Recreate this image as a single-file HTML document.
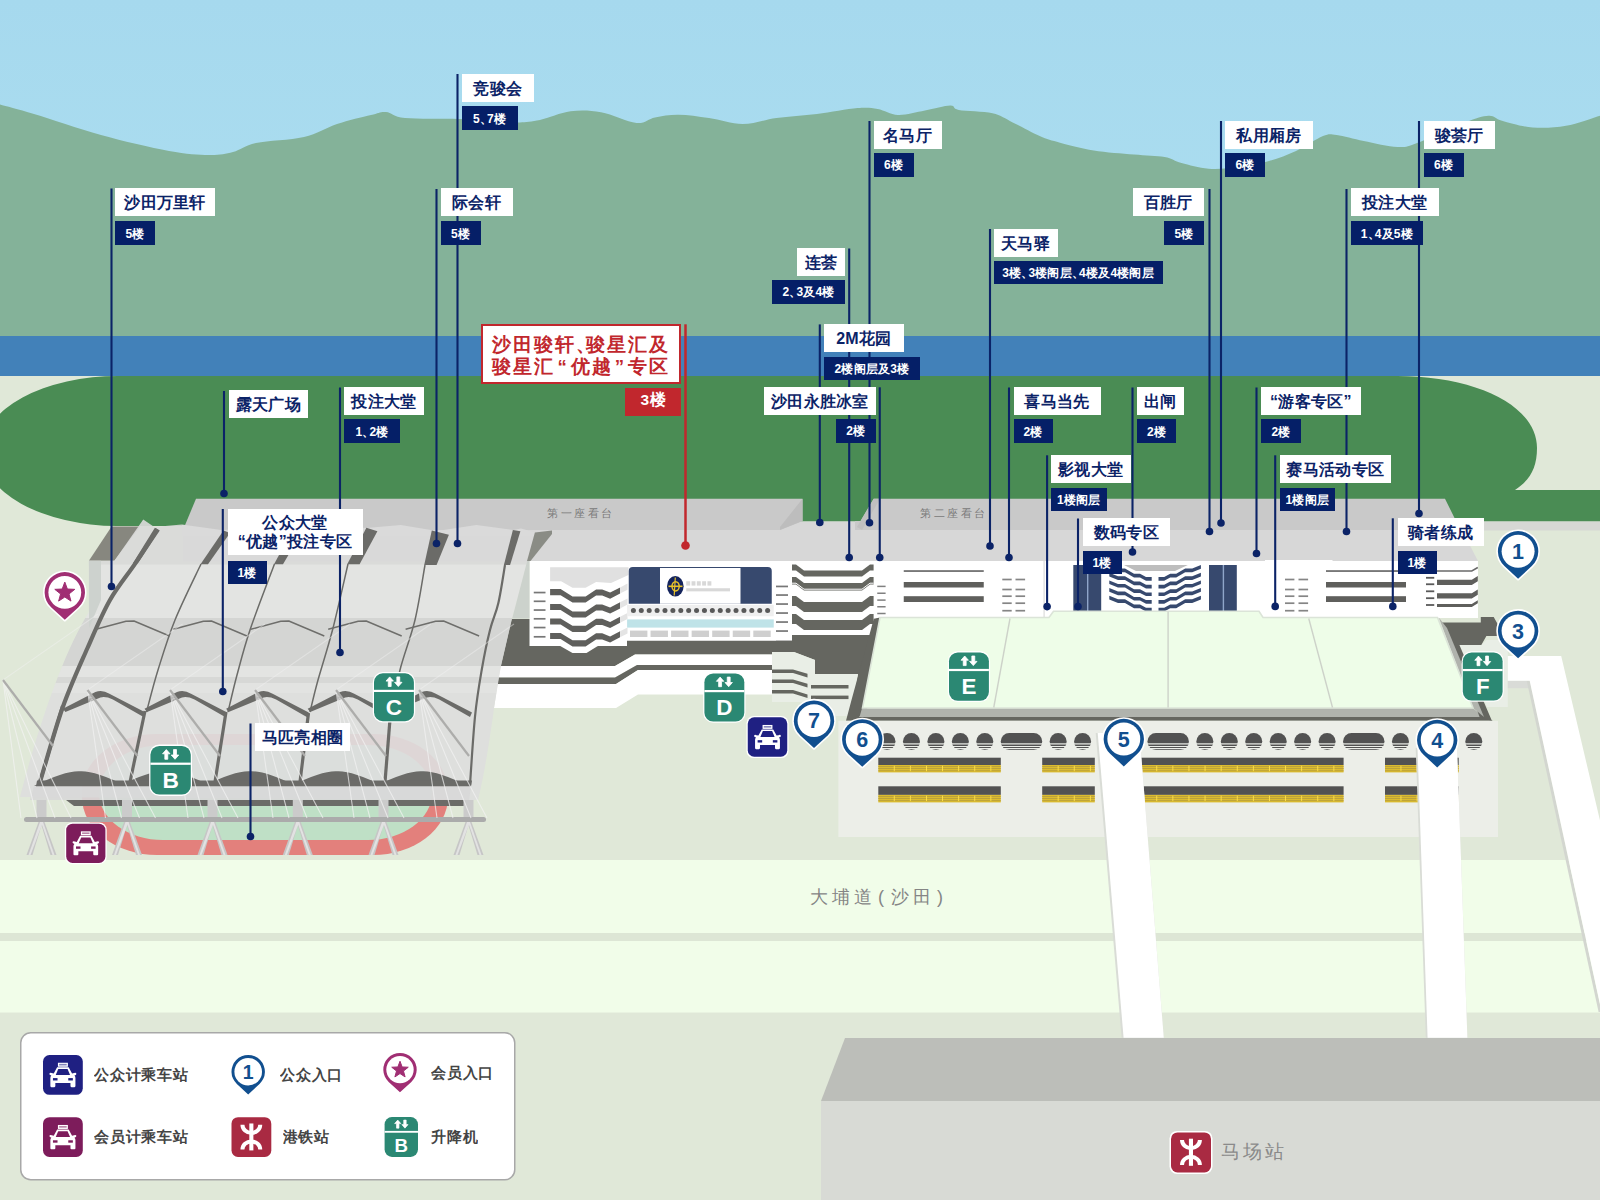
<!DOCTYPE html>
<html lang="zh-Hans"><head><meta charset="utf-8"><title>沙田马场地图</title>
<style>
html,body{margin:0;padding:0;background:#e0e8d8;}
body{width:1600px;height:1200px;position:relative;overflow:hidden;font-family:"Liberation Sans",sans-serif;}
#art{position:absolute;left:0;top:0;width:1600px;height:1200px;display:block;}
.nm,.fl,.rd,.gt,.lg{position:absolute;white-space:nowrap;overflow:hidden;text-align:center;font-family:"Liberation Sans",sans-serif;}
.nm{background:#fff;color:#0b2367;font-weight:bold;font-size:16px;letter-spacing:0.3px;}
.fl{background:#051f67;color:#fff;font-weight:bold;font-size:12px;letter-spacing:0.2px;}
.rd{background:#fff;color:#c1272d;font-weight:bold;font-size:18.6px;line-height:21.6px;letter-spacing:2px;border:2px solid #c1272d;box-sizing:border-box;padding-top:8px;}
.cm{margin-right:-5px;}
.cm2{margin-right:-11px;}
.q{margin:0 2px;}
.gt{font-weight:normal;}
.lg{color:#444;font-size:15px;font-weight:bold;letter-spacing:0.8px;line-height:22px;text-align:left;}
</style></head>
<body>
<svg id="art" width="1600" height="1200" viewBox="0 0 1600 1200">
<defs><linearGradient id="sky" x1="0" y1="0" x2="0" y2="1"><stop offset="0" stop-color="#a6d9ee"/><stop offset="1" stop-color="#addff0"/></linearGradient></defs>
<rect x="0" y="0" width="1600" height="340" fill="url(#sky)"/>
<path d="M0.0,104.5 C5.7,106.1 17.2,108.9 34.0,114.0 C50.8,119.1 78.5,128.8 101.0,135.0 C123.5,141.2 151.0,147.7 169.0,151.0 C187.0,154.3 198.3,154.8 209.0,155.0 C219.7,155.2 225.2,154.0 233.0,152.0 C240.8,150.0 244.2,145.5 256.0,143.0 C267.8,140.5 290.5,140.2 304.0,137.0 C317.5,133.8 325.8,127.7 337.0,124.0 C348.2,120.3 362.8,117.0 371.0,115.0 C379.2,113.0 380.3,111.5 386.0,112.0 C391.7,112.5 392.8,116.8 405.0,118.0 C417.2,119.2 442.2,118.3 459.0,119.0 C475.8,119.7 495.8,121.4 506.0,122.0 C516.2,122.6 514.3,122.7 520.0,122.4 C525.7,122.1 531.6,121.8 540.0,120.0 C548.4,118.2 560.4,112.6 570.6,111.3 C580.8,110.0 590.0,110.3 601.0,112.3 C612.0,114.2 627.4,122.2 636.4,123.0 C645.4,123.8 648.0,118.8 655.0,117.4 C662.0,116.0 669.6,114.6 678.6,114.7 C687.6,114.8 698.3,116.5 709.0,118.0 C719.7,119.5 731.5,124.0 742.7,124.0 C754.0,124.0 764.1,119.7 776.5,118.0 C788.9,116.3 803.5,115.7 817.0,114.0 C830.5,112.3 847.4,108.8 857.5,108.0 C867.6,107.2 871.0,107.8 877.7,109.0 C884.5,110.2 890.1,114.7 898.0,115.0 C905.9,115.3 916.3,112.2 925.0,110.6 C933.7,109.0 944.7,105.7 950.3,105.6 C955.9,105.5 951.7,108.7 958.7,110.0 C965.7,111.3 983.5,111.2 992.5,113.3 C1001.5,115.4 1004.8,118.6 1012.7,122.4 C1020.6,126.2 1031.8,132.6 1039.7,136.0 C1047.6,139.4 1051.0,140.3 1060.0,142.7 C1069.0,145.1 1081.4,148.4 1093.7,150.4 C1106.0,152.4 1122.2,153.4 1134.0,154.5 C1145.8,155.6 1156.7,155.6 1164.6,157.0 C1172.5,158.4 1174.2,161.1 1181.5,163.0 C1188.8,164.9 1198.8,168.0 1208.5,168.7 C1218.2,169.4 1229.9,168.3 1240.0,167.0 C1250.1,165.7 1259.7,163.7 1269.0,161.0 C1278.3,158.3 1287.0,155.2 1296.0,151.0 C1305.0,146.8 1316.2,138.7 1323.0,136.0 C1329.8,133.3 1329.9,134.2 1336.7,135.0 C1343.5,135.8 1353.6,139.0 1363.7,141.0 C1373.8,143.0 1388.5,146.7 1397.5,147.0 C1406.5,147.3 1406.5,146.8 1417.7,142.7 C1429.0,138.6 1453.2,126.9 1465.0,122.4 C1476.8,117.9 1482.4,116.0 1488.6,115.7 C1494.8,115.4 1494.7,118.7 1502.0,120.7 C1509.3,122.7 1521.8,126.7 1532.5,127.5 C1543.2,128.3 1554.8,127.8 1566.0,125.8 C1577.2,123.8 1594.3,117.4 1600.0,115.7 L1600,340 L0,340 Z" fill="#84b299"/>
<rect x="0" y="336" width="1600" height="40" fill="#4281b9"/>
<rect x="0" y="376" width="1600" height="824" fill="#e0e8d8"/>
<path d="M119,376 A136,75 0 0 0 117,526 L190,526 L190,521.5 L1600,521.5 L1600,490 L1515,490 C1530,480 1537,468 1537,448 C1537,405 1475,376 1397,376 Z" fill="#4a8c54"/>
<rect x="1440" y="521.5" width="160" height="9" fill="#d6d8d4"/>
<rect x="0" y="860" width="1600" height="73" fill="#f1fde9"/>
<rect x="0" y="933" width="1600" height="8" fill="#dde6d5"/>
<rect x="0" y="941" width="1600" height="71.5" fill="#f1fde9"/>
<rect x="778.00" y="521.50" width="80.00" height="40.00" fill="#d7d7d7" />
<polygon points="196.0,498.7 802.5,498.7 802.5,521.0 780.0,530.0 183.0,530.0" fill="#c9c9c9" />
<polygon points="802.5,498.7 802.5,521.0 780.0,530.0 780.0,527.0" fill="#bdbdbd" />
<rect x="183.00" y="530.00" width="620.00" height="31.50" fill="#d7d7d7" />
<polygon points="873.7,498.7 1445.0,498.7 1456.0,521.0 862.0,521.0 857.0,527.0" fill="#c9c9c9" />
<rect x="855.00" y="521.00" width="601.00" height="9.00" fill="#c9c9c9" />
<polygon points="857.0,527.0 873.7,498.7 880.0,498.7 862.0,530.0" fill="#c0c0c0" />
<polygon points="840.0,530.0 1462.0,530.0 1478.0,561.0 840.0,561.0" fill="#d7d7d7" />
<polygon points="511.7,619.0 792.0,619.0 792.0,654.5 635.0,654.5 615.0,666.0 500.8,666.0" fill="#656660" />
<polygon points="500.8,666.0 615.0,666.0 635.0,654.5 776.0,654.5 776.0,665.0 637.0,665.0 615.0,677.5 498.6,677.5" fill="#ffffff" />
<polygon points="498.6,677.5 615.0,677.5 637.0,665.0 776.0,665.0 776.0,670.0 638.0,670.0 616.0,684.0 497.6,684.0" fill="#656660" />
<polygon points="497.6,684.0 616.0,684.0 638.0,670.0 772.0,670.0 772.0,694.5 638.0,694.5 616.0,708.0 494.0,708.0" fill="#ffffff" />
<polygon points="529.5,646.0 627.0,646.0 627.0,640.8 792.1,640.8 792.1,561.0 529.5,561.0" fill="#ffffff" />
<polygon points="558.0,645.5 560.2,646.0 572.5,653.0 586.5,653.0 597.0,646.5 599.0,645.5" fill="#ffffff" />
<polygon points="550.1,567.2 628.5,567.2 628.5,575.1 611.0,583.0 596.1,582.1 585.6,587.7 572.5,587.7 561.1,581.2 550.1,581.2" fill="#e0e0e0" />
<polygon points="550.1,589.1 560.6,589.1 572.5,596.5 585.6,596.5 596.1,589.5 602.2,589.5 610.1,592.6 620.1,587.4 620.1,593.5 610.1,598.7 602.2,595.6 596.1,595.6 585.6,602.6 572.5,602.6 560.6,595.2 550.1,595.2" fill="#5f5f5c" />
<polygon points="620.1,587.4 627.5,583.6 627.5,589.7 620.1,593.5" fill="#e4e4e4" />
<polygon points="550.1,604.0 560.6,604.0 572.5,611.4 585.6,611.4 596.1,604.4 602.2,604.4 610.1,607.5 620.1,602.3 620.1,608.4 610.1,613.6 602.2,610.5 596.1,610.5 585.6,617.5 572.5,617.5 560.6,610.1 550.1,610.1" fill="#5f5f5c" />
<polygon points="620.1,602.3 627.5,598.5 627.5,604.6 620.1,608.4" fill="#e4e4e4" />
<polygon points="550.1,618.4 560.6,618.4 572.5,625.8 585.6,625.8 596.1,618.8 602.2,618.8 610.1,621.9 620.1,616.7 620.1,622.8 610.1,628.0 602.2,624.9 596.1,624.9 585.6,631.9 572.5,631.9 560.6,624.5 550.1,624.5" fill="#5f5f5c" />
<polygon points="620.1,616.7 627.5,612.9 627.5,619.0 620.1,622.8" fill="#e4e4e4" />
<polygon points="550.1,632.9 560.6,632.9 572.5,640.3 585.6,640.3 596.1,633.3 602.2,633.3 610.1,636.4 620.1,631.2 620.1,637.3 610.1,642.5 602.2,639.4 596.1,639.4 585.6,646.4 572.5,646.4 560.6,639.0 550.1,639.0" fill="#5f5f5c" />
<polygon points="620.1,631.2 627.5,627.4 627.5,633.5 620.1,637.3" fill="#e4e4e4" />
<rect x="533.75" y="591.70" width="11.75" height="1.70" fill="#777" />
<rect x="533.75" y="600.45" width="11.75" height="1.70" fill="#777" />
<rect x="533.75" y="609.20" width="11.75" height="1.70" fill="#777" />
<rect x="533.75" y="617.95" width="11.75" height="1.70" fill="#777" />
<rect x="533.75" y="626.70" width="11.75" height="1.70" fill="#777" />
<rect x="533.75" y="635.95" width="11.75" height="1.70" fill="#777" />
<rect x="776.00" y="585.60" width="12.00" height="1.70" fill="#777" />
<rect x="776.00" y="594.20" width="12.00" height="1.70" fill="#777" />
<rect x="776.00" y="603.20" width="12.00" height="1.70" fill="#777" />
<rect x="776.00" y="612.20" width="12.00" height="1.70" fill="#777" />
<rect x="776.00" y="621.20" width="12.00" height="1.70" fill="#777" />
<rect x="776.00" y="630.20" width="12.00" height="1.70" fill="#777" />
<path d="M628.75,603.75 V571 a4,4 0 0 1 4,-4 H767.75 a4,4 0 0 1 4,4 V603.75 Z" fill="#37496e"/>
<rect x="660.00" y="568.00" width="80.50" height="35.75" fill="#ffffff" />
<ellipse cx="675.3" cy="586.3" rx="8.3" ry="10.3" fill="#14245c"/><ellipse cx="675.6" cy="586.3" rx="3.6" ry="4.6" fill="none" stroke="#e8c22a" stroke-width="1.5"/><line x1="675.3" y1="577.5" x2="674.2" y2="595.5" stroke="#e8c22a" stroke-width="1.2"/><line x1="668.5" y1="586.3" x2="682.5" y2="586.3" stroke="#e8c22a" stroke-width="1.6"/>
<rect x="686.25" y="581.25" width="3.90" height="4.35" fill="#d8d8d8" />
<rect x="691.55" y="581.25" width="3.90" height="4.35" fill="#d8d8d8" />
<rect x="696.85" y="581.25" width="3.90" height="4.35" fill="#d8d8d8" />
<rect x="702.15" y="581.25" width="3.90" height="4.35" fill="#d8d8d8" />
<rect x="707.45" y="581.25" width="3.90" height="4.35" fill="#d8d8d8" />
<rect x="686.25" y="588.25" width="43.75" height="3.10" fill="#d8d8d8" />
<rect x="627.10" y="604.90" width="146.65" height="11.35" fill="#efefef" />
<circle cx="633.40" cy="610.5" r="2.5" fill="#595959"/>
<circle cx="641.29" cy="610.5" r="2.5" fill="#595959"/>
<circle cx="649.19" cy="610.5" r="2.5" fill="#595959"/>
<circle cx="657.08" cy="610.5" r="2.5" fill="#595959"/>
<circle cx="664.98" cy="610.5" r="2.5" fill="#595959"/>
<circle cx="672.88" cy="610.5" r="2.5" fill="#595959"/>
<circle cx="680.77" cy="610.5" r="2.5" fill="#595959"/>
<circle cx="688.66" cy="610.5" r="2.5" fill="#595959"/>
<circle cx="696.56" cy="610.5" r="2.5" fill="#595959"/>
<circle cx="704.45" cy="610.5" r="2.5" fill="#595959"/>
<circle cx="712.35" cy="610.5" r="2.5" fill="#595959"/>
<circle cx="720.25" cy="610.5" r="2.5" fill="#595959"/>
<circle cx="728.14" cy="610.5" r="2.5" fill="#595959"/>
<circle cx="736.03" cy="610.5" r="2.5" fill="#595959"/>
<circle cx="743.93" cy="610.5" r="2.5" fill="#595959"/>
<circle cx="751.82" cy="610.5" r="2.5" fill="#595959"/>
<circle cx="759.72" cy="610.5" r="2.5" fill="#595959"/>
<circle cx="767.62" cy="610.5" r="2.5" fill="#595959"/>
<rect x="627.10" y="619.40" width="146.65" height="8.20" fill="#bfe3e8" />
<rect x="630.00" y="630.60" width="17.40" height="6.40" fill="#cfcfcf" />
<rect x="650.55" y="630.60" width="17.40" height="6.40" fill="#cfcfcf" />
<rect x="671.10" y="630.60" width="17.40" height="6.40" fill="#cfcfcf" />
<rect x="691.65" y="630.60" width="17.40" height="6.40" fill="#cfcfcf" />
<rect x="712.20" y="630.60" width="17.40" height="6.40" fill="#cfcfcf" />
<rect x="732.75" y="630.60" width="17.40" height="6.40" fill="#cfcfcf" />
<rect x="753.30" y="630.60" width="17.40" height="6.40" fill="#cfcfcf" />
<rect x="790.00" y="561.00" width="86.00" height="74.50" fill="#ffffff" />
<polygon points="792.0,564.4 796.0,564.4 804.0,570.4 862.0,570.4 870.0,564.4 873.6,564.4 873.6,570.6 870.0,570.6 862.0,576.6 804.0,576.6 796.0,570.6 792.0,570.6" fill="#656660" />
<polygon points="792.0,577.0 796.0,577.0 804.0,583.0 862.0,583.0 870.0,577.0 873.6,577.0 873.6,584.6 870.0,584.6 862.0,590.6 804.0,590.6 796.0,584.6 792.0,584.6" fill="#656660" />
<polyline points="792.0,583.2 796.0,583.2 804.0,589.2 862.0,589.2 870.0,583.2 873.6,583.2" fill="none" stroke="#ffffff" stroke-width="1.00" />
<polygon points="792.0,596.0 796.0,596.0 804.0,602.0 862.0,602.0 870.0,596.0 873.6,596.0 873.6,606.0 870.0,606.0 862.0,612.0 804.0,612.0 796.0,606.0 792.0,606.0" fill="#656660" />
<polygon points="792.0,614.0 796.0,614.0 804.0,620.0 862.0,620.0 870.0,614.0 873.6,614.0 873.6,624.0 870.0,624.0 862.0,630.0 804.0,630.0 796.0,624.0 792.0,624.0" fill="#656660" />
<polygon points="776.0,640.8 792.0,640.8 792.0,635.0 874.0,635.0 880.0,628.0 866.0,716.0 852.0,716.0 858.0,674.0 815.0,674.0 815.0,660.0 794.0,652.0 776.0,652.0" fill="#656660" />
<polygon points="772.0,652.0 794.0,652.0 815.0,660.0 815.0,702.0 772.0,702.0" fill="#e9eee6" />
<polygon points="772.0,669.4 793.0,669.4 807.5,673.8 807.5,677.4 793.0,673.0 772.0,673.0" fill="#656660" />
<polygon points="772.0,679.4 793.0,679.4 807.5,683.8 807.5,687.4 793.0,683.0 772.0,683.0" fill="#656660" />
<polygon points="772.0,690.0 793.0,690.0 807.5,694.4 807.5,698.0 793.0,693.6 772.0,693.6" fill="#656660" />
<polygon points="815.0,674.0 858.0,674.0 850.0,716.0 815.0,716.0" fill="#e9eee6" />
<rect x="811.00" y="685.00" width="37.50" height="3.50" fill="#656660" />
<rect x="811.00" y="695.60" width="37.50" height="3.50" fill="#656660" />
<rect x="875.00" y="561.00" width="603.00" height="57.00" fill="#ffffff" />
<rect x="903.75" y="570.20" width="80.00" height="1.70" fill="#6a6a6a" />
<rect x="903.75" y="582.00" width="80.00" height="5.50" fill="#5f5f5c" />
<rect x="903.75" y="596.20" width="80.00" height="5.80" fill="#5f5f5c" />
<rect x="877.25" y="585.65" width="8.35" height="1.50" fill="#808080" />
<rect x="877.25" y="592.50" width="8.35" height="1.50" fill="#808080" />
<rect x="877.25" y="599.35" width="8.35" height="1.50" fill="#808080" />
<rect x="877.25" y="606.00" width="8.35" height="1.50" fill="#808080" />
<rect x="877.25" y="612.75" width="8.35" height="1.50" fill="#808080" />
<rect x="1002.30" y="578.65" width="9.40" height="1.70" fill="#858585" />
<rect x="1015.50" y="578.65" width="9.60" height="1.70" fill="#858585" />
<rect x="1002.30" y="588.65" width="9.40" height="1.70" fill="#858585" />
<rect x="1015.50" y="588.65" width="9.60" height="1.70" fill="#858585" />
<rect x="1002.30" y="595.35" width="9.40" height="1.70" fill="#858585" />
<rect x="1015.50" y="595.35" width="9.60" height="1.70" fill="#858585" />
<rect x="1002.30" y="602.35" width="9.40" height="1.70" fill="#858585" />
<rect x="1015.50" y="602.35" width="9.60" height="1.70" fill="#858585" />
<rect x="1002.30" y="609.85" width="9.40" height="1.70" fill="#858585" />
<rect x="1015.50" y="609.85" width="9.60" height="1.70" fill="#858585" />
<rect x="1043.50" y="561.00" width="1.20" height="57.00" fill="#dcdcdc" />
<rect x="1265.00" y="560.00" width="1.20" height="58.00" fill="#dcdcdc" />
<rect x="1265.00" y="560.00" width="67.50" height="57.50" fill="#ffffff" />
<rect x="1073.30" y="565.00" width="27.90" height="46.20" fill="#37496e" />
<rect x="1087.00" y="565.00" width="1.40" height="46.20" fill="#8fa5c9" />
<rect x="1209.00" y="565.00" width="27.80" height="46.20" fill="#37496e" />
<rect x="1222.70" y="565.00" width="1.40" height="46.20" fill="#8fa5c9" />
<polygon points="1124.0,565.0 1187.8,565.0 1175.0,571.0 1136.0,571.0" fill="#bdbdbd" />
<polygon points="1109.3,565.0 1118.0,568.5 1125.0,568.5 1134.0,573.8 1140.0,573.8 1146.0,577.0 1151.7,577.0 1151.7,580.7 1146.0,580.7 1140.0,577.5 1134.0,577.5 1125.0,572.2 1118.0,572.2 1109.3,568.7" fill="#37496e" />
<polygon points="1200.9,565.0 1192.2,568.5 1185.2,568.5 1176.2,573.8 1170.2,573.8 1164.2,577.0 1158.5,577.0 1158.5,580.7 1164.2,580.7 1170.2,577.5 1176.2,577.5 1185.2,572.2 1192.2,572.2 1200.9,568.7" fill="#37496e" />
<polygon points="1109.3,572.7 1118.0,576.2 1125.0,576.2 1134.0,581.5 1140.0,581.5 1146.0,584.7 1151.7,584.7 1151.7,588.4 1146.0,588.4 1140.0,585.2 1134.0,585.2 1125.0,579.9 1118.0,579.9 1109.3,576.4" fill="#37496e" />
<polygon points="1200.9,572.7 1192.2,576.2 1185.2,576.2 1176.2,581.5 1170.2,581.5 1164.2,584.7 1158.5,584.7 1158.5,588.4 1164.2,588.4 1170.2,585.2 1176.2,585.2 1185.2,579.9 1192.2,579.9 1200.9,576.4" fill="#37496e" />
<polygon points="1109.3,580.4 1118.0,583.9 1125.0,583.9 1134.0,589.2 1140.0,589.2 1146.0,592.4 1151.7,592.4 1151.7,596.1 1146.0,596.1 1140.0,592.9 1134.0,592.9 1125.0,587.6 1118.0,587.6 1109.3,584.1" fill="#37496e" />
<polygon points="1200.9,580.4 1192.2,583.9 1185.2,583.9 1176.2,589.2 1170.2,589.2 1164.2,592.4 1158.5,592.4 1158.5,596.1 1164.2,596.1 1170.2,592.9 1176.2,592.9 1185.2,587.6 1192.2,587.6 1200.9,584.1" fill="#37496e" />
<polygon points="1109.3,588.1 1118.0,591.6 1125.0,591.6 1134.0,596.9 1140.0,596.9 1146.0,600.1 1151.7,600.1 1151.7,603.8 1146.0,603.8 1140.0,600.6 1134.0,600.6 1125.0,595.3 1118.0,595.3 1109.3,591.8" fill="#37496e" />
<polygon points="1200.9,588.1 1192.2,591.6 1185.2,591.6 1176.2,596.9 1170.2,596.9 1164.2,600.1 1158.5,600.1 1158.5,603.8 1164.2,603.8 1170.2,600.6 1176.2,600.6 1185.2,595.3 1192.2,595.3 1200.9,591.8" fill="#37496e" />
<polygon points="1109.3,595.8 1118.0,599.3 1125.0,599.3 1134.0,604.6 1140.0,604.6 1146.0,607.8 1151.7,607.8 1151.7,611.5 1146.0,611.5 1140.0,608.3 1134.0,608.3 1125.0,603.0 1118.0,603.0 1109.3,599.5" fill="#37496e" />
<polygon points="1200.9,595.8 1192.2,599.3 1185.2,599.3 1176.2,604.6 1170.2,604.6 1164.2,607.8 1158.5,607.8 1158.5,611.5 1164.2,611.5 1170.2,608.3 1176.2,608.3 1185.2,603.0 1192.2,603.0 1200.9,599.5" fill="#37496e" />
<rect x="1102.00" y="555.00" width="105.00" height="10.00" fill="#ffffff" />
<rect x="1102.00" y="530.00" width="105.00" height="31.00" fill="#d7d7d7" />
<rect x="1285.00" y="578.65" width="9.40" height="1.70" fill="#858585" />
<rect x="1298.50" y="578.65" width="9.60" height="1.70" fill="#858585" />
<rect x="1285.00" y="588.65" width="9.40" height="1.70" fill="#858585" />
<rect x="1298.50" y="588.65" width="9.60" height="1.70" fill="#858585" />
<rect x="1285.00" y="595.35" width="9.40" height="1.70" fill="#858585" />
<rect x="1298.50" y="595.35" width="9.60" height="1.70" fill="#858585" />
<rect x="1285.00" y="602.35" width="9.40" height="1.70" fill="#858585" />
<rect x="1298.50" y="602.35" width="9.60" height="1.70" fill="#858585" />
<rect x="1285.00" y="609.85" width="9.40" height="1.70" fill="#858585" />
<rect x="1298.50" y="609.85" width="9.60" height="1.70" fill="#858585" />
<rect x="1326.00" y="570.20" width="80.00" height="1.70" fill="#6a6a6a" />
<rect x="1326.00" y="582.00" width="80.00" height="5.50" fill="#5f5f5c" />
<rect x="1326.00" y="596.20" width="80.00" height="5.80" fill="#5f5f5c" />
<rect x="1426.00" y="576.90" width="8.25" height="1.80" fill="#5a5a5a" />
<rect x="1426.00" y="583.35" width="8.25" height="1.80" fill="#5a5a5a" />
<rect x="1426.00" y="590.40" width="8.25" height="1.80" fill="#5a5a5a" />
<rect x="1426.00" y="597.30" width="8.25" height="1.80" fill="#5a5a5a" />
<rect x="1426.00" y="604.10" width="8.25" height="1.80" fill="#5a5a5a" />
<polyline points="1437.0,571.0 1471.8,571.0 1477.8,567.5" fill="none" stroke="#6a6a6a" stroke-width="1.50" />
<polygon points="1437.0,579.8 1471.8,579.8 1477.8,576.0 1477.8,581.2 1471.8,585.0 1437.0,585.0" fill="#5f5f5c" />
<polygon points="1437.0,593.2 1471.8,593.2 1477.8,589.5 1477.8,594.8 1471.8,598.5 1437.0,598.5" fill="#5f5f5c" />
<polygon points="1437.0,604.0 1471.8,604.0 1477.8,600.2 1477.8,603.2 1471.8,607.0 1437.0,607.0" fill="#5f5f5c" />
<polygon points="873.8,618.8 880.0,617.5 861.0,712.0 859.5,717.0 1484.0,717.0 1493.0,720.8 846.0,720.8 851.5,700.0" fill="#656660" />
<polygon points="862.0,708.3 1473.0,708.3 1484.0,717.0 859.5,717.0" fill="#b0b3ad" />
<polygon points="1459.4,645.0 1481.3,645.0 1486.4,640.0 1507.8,640.0 1507.8,707.0 1487.0,707.0" fill="#e9eee6" />
<polygon points="1441.4,622.5 1480.8,622.5 1480.8,616.9 1493.7,616.9 1497.6,624.0 1497.6,636.0 1486.4,636.0 1481.3,645.0 1459.4,645.0 1492.0,721.0 1479.6,717.0 1447.0,630.0" fill="#656660" />
<polygon points="1438.8,617.5 1447.0,628.0 1484.0,717.0 1472.5,707.5" fill="#b0b3ad" />
<polygon points="880.0,617.5 1049.0,617.5 1053.5,611.2 1259.0,611.2 1263.0,617.5 1437.5,617.5 1473.0,708.0 862.5,708.0" fill="#eefde8" stroke="#dbe4d8" stroke-width="1.6"/>
<line x1="1010.00" y1="618.50" x2="993.75" y2="707.50" stroke="#cdd2c9" stroke-width="1.40" />
<line x1="1168.10" y1="611.50" x2="1168.10" y2="707.50" stroke="#cdd2c9" stroke-width="1.40" />
<line x1="1308.75" y1="618.50" x2="1332.50" y2="707.50" stroke="#cdd2c9" stroke-width="1.40" />
<rect x="838.40" y="720.80" width="659.60" height="116.20" fill="#eceee8" />
<g fill="#525252">
<circle cx="887.00" cy="741.5" r="8.5"/>
<circle cx="911.45" cy="741.5" r="8.5"/>
<circle cx="935.90" cy="741.5" r="8.5"/>
<circle cx="960.35" cy="741.5" r="8.5"/>
<circle cx="984.80" cy="741.5" r="8.5"/>
<circle cx="1058.15" cy="741.5" r="8.5"/>
<circle cx="1082.60" cy="741.5" r="8.5"/>
<circle cx="1204.85" cy="741.5" r="8.5"/>
<circle cx="1229.30" cy="741.5" r="8.5"/>
<circle cx="1253.75" cy="741.5" r="8.5"/>
<circle cx="1278.20" cy="741.5" r="8.5"/>
<circle cx="1302.65" cy="741.5" r="8.5"/>
<circle cx="1327.10" cy="741.5" r="8.5"/>
<circle cx="1400.45" cy="741.5" r="8.5"/>
<circle cx="1473.80" cy="741.5" r="8.5"/>
<rect x="1000.75" y="733.0" width="41.45" height="17" rx="8.5"/>
<rect x="1147.45" y="733.0" width="41.45" height="17" rx="8.5"/>
<rect x="1343.05" y="733.0" width="41.45" height="17" rx="8.5"/>
</g>
<rect x="876.00" y="743.30" width="610.00" height="1.20" fill="#eceee8" />
<rect x="876.00" y="746.00" width="610.00" height="1.00" fill="#eceee8" />
<rect x="876.00" y="748.00" width="610.00" height="1.20" fill="#eceee8" />
<rect x="878.30" y="757.70" width="122.50" height="7.30" fill="#525252" />
<rect x="878.30" y="765.00" width="122.50" height="7.40" fill="#dcbc2e" />
<rect x="878.30" y="766.10" width="122.50" height="0.80" fill="#b39c3f" />
<rect x="878.30" y="768.20" width="122.50" height="0.80" fill="#b39c3f" />
<rect x="878.30" y="770.40" width="122.50" height="0.80" fill="#b39c3f" />
<rect x="893.80" y="765.80" width="0.90" height="5.40" fill="#ffe24a" />
<rect x="909.90" y="765.80" width="0.90" height="5.40" fill="#ffe24a" />
<rect x="926.00" y="765.80" width="0.90" height="5.40" fill="#ffe24a" />
<rect x="942.10" y="765.80" width="0.90" height="5.40" fill="#ffe24a" />
<rect x="958.20" y="765.80" width="0.90" height="5.40" fill="#ffe24a" />
<rect x="974.30" y="765.80" width="0.90" height="5.40" fill="#ffe24a" />
<rect x="990.40" y="765.80" width="0.90" height="5.40" fill="#ffe24a" />
<rect x="878.30" y="786.30" width="122.50" height="8.60" fill="#525252" />
<rect x="878.30" y="794.90" width="122.50" height="7.50" fill="#dcbc2e" />
<rect x="878.30" y="796.00" width="122.50" height="0.80" fill="#b39c3f" />
<rect x="878.30" y="798.10" width="122.50" height="0.80" fill="#b39c3f" />
<rect x="878.30" y="800.30" width="122.50" height="0.80" fill="#b39c3f" />
<rect x="893.80" y="795.70" width="0.90" height="5.40" fill="#ffe24a" />
<rect x="909.90" y="795.70" width="0.90" height="5.40" fill="#ffe24a" />
<rect x="926.00" y="795.70" width="0.90" height="5.40" fill="#ffe24a" />
<rect x="942.10" y="795.70" width="0.90" height="5.40" fill="#ffe24a" />
<rect x="958.20" y="795.70" width="0.90" height="5.40" fill="#ffe24a" />
<rect x="974.30" y="795.70" width="0.90" height="5.40" fill="#ffe24a" />
<rect x="990.40" y="795.70" width="0.90" height="5.40" fill="#ffe24a" />
<rect x="1042.20" y="757.70" width="52.60" height="7.30" fill="#525252" />
<rect x="1042.20" y="765.00" width="52.60" height="7.40" fill="#dcbc2e" />
<rect x="1042.20" y="766.10" width="52.60" height="0.80" fill="#b39c3f" />
<rect x="1042.20" y="768.20" width="52.60" height="0.80" fill="#b39c3f" />
<rect x="1042.20" y="770.40" width="52.60" height="0.80" fill="#b39c3f" />
<rect x="1057.70" y="765.80" width="0.90" height="5.40" fill="#ffe24a" />
<rect x="1073.80" y="765.80" width="0.90" height="5.40" fill="#ffe24a" />
<rect x="1089.90" y="765.80" width="0.90" height="5.40" fill="#ffe24a" />
<rect x="1042.20" y="786.30" width="52.60" height="8.60" fill="#525252" />
<rect x="1042.20" y="794.90" width="52.60" height="7.50" fill="#dcbc2e" />
<rect x="1042.20" y="796.00" width="52.60" height="0.80" fill="#b39c3f" />
<rect x="1042.20" y="798.10" width="52.60" height="0.80" fill="#b39c3f" />
<rect x="1042.20" y="800.30" width="52.60" height="0.80" fill="#b39c3f" />
<rect x="1057.70" y="795.70" width="0.90" height="5.40" fill="#ffe24a" />
<rect x="1073.80" y="795.70" width="0.90" height="5.40" fill="#ffe24a" />
<rect x="1089.90" y="795.70" width="0.90" height="5.40" fill="#ffe24a" />
<rect x="1140.80" y="757.70" width="202.80" height="7.30" fill="#525252" />
<rect x="1140.80" y="765.00" width="202.80" height="7.40" fill="#dcbc2e" />
<rect x="1140.80" y="766.10" width="202.80" height="0.80" fill="#b39c3f" />
<rect x="1140.80" y="768.20" width="202.80" height="0.80" fill="#b39c3f" />
<rect x="1140.80" y="770.40" width="202.80" height="0.80" fill="#b39c3f" />
<rect x="1156.30" y="765.80" width="0.90" height="5.40" fill="#ffe24a" />
<rect x="1172.40" y="765.80" width="0.90" height="5.40" fill="#ffe24a" />
<rect x="1188.50" y="765.80" width="0.90" height="5.40" fill="#ffe24a" />
<rect x="1204.60" y="765.80" width="0.90" height="5.40" fill="#ffe24a" />
<rect x="1220.70" y="765.80" width="0.90" height="5.40" fill="#ffe24a" />
<rect x="1236.80" y="765.80" width="0.90" height="5.40" fill="#ffe24a" />
<rect x="1252.90" y="765.80" width="0.90" height="5.40" fill="#ffe24a" />
<rect x="1269.00" y="765.80" width="0.90" height="5.40" fill="#ffe24a" />
<rect x="1285.10" y="765.80" width="0.90" height="5.40" fill="#ffe24a" />
<rect x="1301.20" y="765.80" width="0.90" height="5.40" fill="#ffe24a" />
<rect x="1317.30" y="765.80" width="0.90" height="5.40" fill="#ffe24a" />
<rect x="1333.40" y="765.80" width="0.90" height="5.40" fill="#ffe24a" />
<rect x="1140.80" y="786.30" width="202.80" height="8.60" fill="#525252" />
<rect x="1140.80" y="794.90" width="202.80" height="7.50" fill="#dcbc2e" />
<rect x="1140.80" y="796.00" width="202.80" height="0.80" fill="#b39c3f" />
<rect x="1140.80" y="798.10" width="202.80" height="0.80" fill="#b39c3f" />
<rect x="1140.80" y="800.30" width="202.80" height="0.80" fill="#b39c3f" />
<rect x="1156.30" y="795.70" width="0.90" height="5.40" fill="#ffe24a" />
<rect x="1172.40" y="795.70" width="0.90" height="5.40" fill="#ffe24a" />
<rect x="1188.50" y="795.70" width="0.90" height="5.40" fill="#ffe24a" />
<rect x="1204.60" y="795.70" width="0.90" height="5.40" fill="#ffe24a" />
<rect x="1220.70" y="795.70" width="0.90" height="5.40" fill="#ffe24a" />
<rect x="1236.80" y="795.70" width="0.90" height="5.40" fill="#ffe24a" />
<rect x="1252.90" y="795.70" width="0.90" height="5.40" fill="#ffe24a" />
<rect x="1269.00" y="795.70" width="0.90" height="5.40" fill="#ffe24a" />
<rect x="1285.10" y="795.70" width="0.90" height="5.40" fill="#ffe24a" />
<rect x="1301.20" y="795.70" width="0.90" height="5.40" fill="#ffe24a" />
<rect x="1317.30" y="795.70" width="0.90" height="5.40" fill="#ffe24a" />
<rect x="1333.40" y="795.70" width="0.90" height="5.40" fill="#ffe24a" />
<rect x="1385.00" y="757.70" width="73.70" height="7.30" fill="#525252" />
<rect x="1385.00" y="765.00" width="73.70" height="7.40" fill="#dcbc2e" />
<rect x="1385.00" y="766.10" width="73.70" height="0.80" fill="#b39c3f" />
<rect x="1385.00" y="768.20" width="73.70" height="0.80" fill="#b39c3f" />
<rect x="1385.00" y="770.40" width="73.70" height="0.80" fill="#b39c3f" />
<rect x="1400.50" y="765.80" width="0.90" height="5.40" fill="#ffe24a" />
<rect x="1416.60" y="765.80" width="0.90" height="5.40" fill="#ffe24a" />
<rect x="1432.70" y="765.80" width="0.90" height="5.40" fill="#ffe24a" />
<rect x="1448.80" y="765.80" width="0.90" height="5.40" fill="#ffe24a" />
<rect x="1385.00" y="786.30" width="73.70" height="8.60" fill="#525252" />
<rect x="1385.00" y="794.90" width="73.70" height="7.50" fill="#dcbc2e" />
<rect x="1385.00" y="796.00" width="73.70" height="0.80" fill="#b39c3f" />
<rect x="1385.00" y="798.10" width="73.70" height="0.80" fill="#b39c3f" />
<rect x="1385.00" y="800.30" width="73.70" height="0.80" fill="#b39c3f" />
<rect x="1400.50" y="795.70" width="0.90" height="5.40" fill="#ffe24a" />
<rect x="1416.60" y="795.70" width="0.90" height="5.40" fill="#ffe24a" />
<rect x="1432.70" y="795.70" width="0.90" height="5.40" fill="#ffe24a" />
<rect x="1448.80" y="795.70" width="0.90" height="5.40" fill="#ffe24a" />
<polygon points="1095.7,733.0 1139.4,733.0 1163.8,1037.8 1121.6,1037.8" fill="#d9dcd6" />
<polygon points="1097.7,733.0 1139.4,733.0 1163.8,1037.8 1123.6,1037.8" fill="#ffffff" />
<polygon points="1415.7,748.0 1457.0,748.0 1467.4,1037.8 1425.8,1037.8" fill="#d9dcd6" />
<polygon points="1417.5,748.0 1457.0,748.0 1467.4,1037.8 1427.6,1037.8" fill="#ffffff" />
<polygon points="1507.8,680.7 1529.7,680.7 1531.4,688.3 1507.8,688.3" fill="#d9dbd7" />
<polygon points="1526.7,680.7 1529.7,680.7 1601.6,1012.0 1598.6,1012.0" fill="#d3d6d0" />
<polygon points="1507.8,655.9 1561.2,655.9 1602.0,829.0 1602.0,1013.0 1529.7,680.7 1507.8,680.7" fill="#ffffff" />
<polygon points="845.0,1038.0 1600.0,1038.0 1600.0,1101.0 821.0,1101.0" fill="#bcbeb9" />
<rect x="821.00" y="1101.00" width="779.00" height="99.00" fill="#d8dad5" />
<rect x="20.75" y="1032.75" width="494" height="147" rx="10" fill="#ffffff" stroke="#a8a8a8" stroke-width="1.5"/>
<rect x="82" y="734" width="366" height="121" rx="75" ry="58" fill="#e3807c"/>
<rect x="99" y="745" width="333" height="95" rx="64" ry="47" fill="#bfe0c6"/>
<polygon points="88.9,560.8 111.6,526.4 140.0,526.4 114.4,560.8" fill="#87877f" />
<clipPath id="cv"><path d="M88.9,560.8 L114.4,560.8 L143.25,519.6 L154.25,526.9 L181.75,524.4 L183,530 L535,532.5 L526.7,565 L511.7,620 L500.8,666.7 L494,708 C489,745 484,775 478,800 L20,797 C40,720 65,650 89,612 Z"/></clipPath>
<g clip-path="url(#cv)" opacity="0.92">
<rect x="0.00" y="500.00" width="560.00" height="320.00" fill="#dbdbdb" />
<rect x="0.00" y="515.00" width="560.00" height="50.00" fill="#d9d9d9" />
<rect x="0.00" y="564.50" width="560.00" height="54.00" fill="#e3e3e3" />
<rect x="0.00" y="618.00" width="560.00" height="48.00" fill="#d3d3d3" />
<rect x="0.00" y="666.00" width="560.00" height="11.00" fill="#e3e3e3" />
<rect x="0.00" y="677.00" width="560.00" height="6.00" fill="#d6d6d6" />
<rect x="0.00" y="683.00" width="560.00" height="10.00" fill="#e2e2e2" />
<rect x="0.00" y="693.00" width="560.00" height="110.00" fill="#dedede" />
</g>
<polygon points="181.8,524.4 223.0,530.3 262.0,525.5 295.0,529.5 330.0,525.5 366.4,528.0 400.8,525.0 437.0,531.0 476.4,525.0 512.9,530.0 521.0,528.5 534.9,532.6 534.9,536.0 181.8,536.0" fill="#dadada" />
<polygon points="527.2,561.0 529.5,561.0 529.5,618.5 512.2,618.5" fill="#ccd2cc" />
<polygon points="534.9,532.6 552.0,530.5 552.0,534.0 530.5,561.0 527.0,561.0" fill="#8a8c85" />
<polygon points="88.9,560.8 101.0,560.8 101.0,600.0 89.0,628.0" fill="#cdd2ce" />
<polygon points="154.9,527.8 159.8,530.6 137.8,563.2 132.9,563.2" fill="#6b6b68" />
<polygon points="223.5,530.6 230.0,533.0 208.0,564.2 200.5,564.2" fill="#6b6b68" />
<polygon points="293.0,529.3 302.0,532.0 283.0,564.2 274.0,564.2" fill="#6b6b68" />
<polygon points="366.4,527.8 377.4,531.2 359.6,564.2 347.2,564.2" fill="#6b6b68" />
<polygon points="431.8,530.6 448.9,534.7 436.6,565.0 424.2,565.0" fill="#6b6b68" />
<polygon points="512.9,529.9 520.4,531.2 510.1,565.0 503.9,565.0" fill="#6b6b68" />
<path d="M157.3,529.2 C153.6,534.9 143.2,551.6 135.3,563.4 C127.4,575.2 118.0,585.9 110.0,600.0 C102.0,614.1 95.4,630.0 87.5,648.0 C79.6,666.0 70.4,685.7 62.5,708.0 C54.6,730.3 43.8,769.7 40.0,782.0" fill="none" stroke="#6b6b68" stroke-width="4.2"/>
<path d="M201.0,564.0 C196.7,573.3 182.2,602.3 175.0,620.0 C167.8,637.7 162.8,654.7 158.0,670.0 C153.2,685.3 148.4,705.0 146.5,712.0" fill="none" stroke="#6b6b68" stroke-width="1.5"/>
<path d="M274.5,564.0 C270.4,575.0 256.2,611.5 250.0,630.0 C243.8,648.5 240.7,661.3 237.0,675.0 C233.3,688.7 229.5,705.8 228.0,712.0" fill="none" stroke="#6b6b68" stroke-width="1.5"/>
<path d="M348.0,564.0 C345.4,575.0 337.5,610.7 332.5,630.0 C327.5,649.3 321.8,666.3 318.0,680.0 C314.2,693.7 311.3,706.7 310.0,712.0" fill="none" stroke="#6b6b68" stroke-width="1.5"/>
<path d="M425.0,565.0 C423.3,574.2 419.2,602.5 415.0,620.0 C410.8,637.5 403.8,654.7 400.0,670.0 C396.2,685.3 393.3,705.0 392.0,712.0" fill="none" stroke="#6b6b68" stroke-width="1.5"/>
<path d="M505.0,565.0 C503.9,571.4 500.8,592.5 498.3,603.3 C495.8,614.1 492.8,618.9 490.0,630.0 C487.2,641.1 484.2,655.5 481.7,670.0 C479.2,684.5 476.9,697.5 475.0,716.7 C473.1,735.9 470.8,773.6 470.0,785.0" fill="none" stroke="#6b6b68" stroke-width="2.2"/>
<line x1="62.50" y1="706.00" x2="40.00" y2="782.00" stroke="#6b6b68" stroke-width="3.20" />
<line x1="145.00" y1="711.00" x2="130.00" y2="782.00" stroke="#6b6b68" stroke-width="3.20" />
<line x1="226.00" y1="712.00" x2="215.00" y2="782.00" stroke="#6b6b68" stroke-width="3.20" />
<line x1="308.50" y1="713.00" x2="300.00" y2="782.00" stroke="#6b6b68" stroke-width="3.20" />
<line x1="390.50" y1="713.00" x2="385.00" y2="782.00" stroke="#6b6b68" stroke-width="3.20" />
<polyline points="96.0,629.3 126.0,621.2 134.0,621.0 169.5,636.0" fill="none" stroke="#6e6e6b" stroke-width="1.40" stroke-linejoin="round"/>
<polyline points="173.4,629.3 203.4,621.2 211.4,621.0 246.9,636.0" fill="none" stroke="#6e6e6b" stroke-width="1.40" stroke-linejoin="round"/>
<polyline points="250.8,629.3 280.8,621.2 288.8,621.0 324.3,636.0" fill="none" stroke="#6e6e6b" stroke-width="1.40" stroke-linejoin="round"/>
<polyline points="328.2,629.3 358.2,621.2 366.2,621.0 401.7,636.0" fill="none" stroke="#6e6e6b" stroke-width="1.40" stroke-linejoin="round"/>
<polyline points="405.6,629.3 435.6,621.2 443.6,621.0 479.1,636.0" fill="none" stroke="#6e6e6b" stroke-width="1.40" stroke-linejoin="round"/>
<path d="M62.9,708.75 L95.4,692 Q102.4,689.5 109.4,693.75 L145.6,712.5 L143.6,716.9 L112.9,699.4 Q105.4,696 100.4,697.5 L65.4,711.9 Z" fill="#6b6b68"/>
<path d="M144.5,708.75 L177.0,692 Q184.0,689.5 191.0,693.75 L227.2,712.5 L225.2,716.9 L194.5,699.4 Q187.0,696 182.0,697.5 L147.0,711.9 Z" fill="#6b6b68"/>
<path d="M226.1,708.75 L258.6,692 Q265.6,689.5 272.6,693.75 L308.8,712.5 L306.8,716.9 L276.1,699.4 Q268.6,696 263.6,697.5 L228.6,711.9 Z" fill="#6b6b68"/>
<path d="M307.7,708.75 L340.2,692 Q347.2,689.5 354.2,693.75 L390.4,712.5 L388.4,716.9 L357.7,699.4 Q350.2,696 345.2,697.5 L310.2,711.9 Z" fill="#6b6b68"/>
<path d="M389.3,708.75 L421.8,692 Q428.8,689.5 435.8,693.75 L472.0,712.5 L470.0,716.9 L439.3,699.4 Q431.8,696 426.8,697.5 L391.8,711.9 Z" fill="#6b6b68"/>
<path d="M34.0,786 Q65.0,770.5 80.0,771.3 Q95.0,770.5 126.0,786 Z" fill="#6b6b68"/>
<path d="M119.0,786 Q150.0,770.5 165.0,771.3 Q180.0,770.5 211.0,786 Z" fill="#6b6b68"/>
<path d="M204.0,786 Q235.0,770.5 250.0,771.3 Q265.0,770.5 296.0,786 Z" fill="#6b6b68"/>
<path d="M291.0,786 Q322.0,770.5 337.0,771.3 Q352.0,770.5 383.0,786 Z" fill="#6b6b68"/>
<path d="M376.0,786 Q407.0,770.5 422.0,771.3 Q437.0,770.5 468.0,786 Z" fill="#6b6b68"/>
<polygon points="37.0,780.5 472.0,780.5 471.0,786.5 36.0,786.5" fill="#6b6b68" />
<polygon points="34.0,786.5 471.0,786.5 469.0,800.0 30.0,800.0" fill="#d8d8d8" opacity="0.92"/>
<polygon points="66.0,800.0 470.0,800.0 469.0,806.0 74.0,806.0" fill="#6b6b68" />
<rect x="36.50" y="800.00" width="10.00" height="20.00" fill="#cbcbcb" />
<rect x="122.00" y="800.00" width="10.00" height="20.00" fill="#cbcbcb" />
<rect x="207.50" y="800.00" width="10.00" height="20.00" fill="#cbcbcb" />
<rect x="292.80" y="800.00" width="10.00" height="20.00" fill="#cbcbcb" />
<rect x="378.50" y="800.00" width="10.00" height="20.00" fill="#cbcbcb" />
<rect x="463.50" y="800.00" width="10.00" height="20.00" fill="#cbcbcb" />
<rect x="24" y="817" width="462" height="5" rx="2.5" fill="#ababab"/>
<polygon points="38.5,822.0 42.5,822.0 32.5,855.0 26.5,855.0" fill="#c6c6c6" />
<polygon points="40.5,822.0 44.5,822.0 56.5,855.0 50.5,855.0" fill="#c6c6c6" />
<polygon points="40.0,822.0 43.0,822.0 30.5,855.0 28.5,855.0" fill="#e2e2e2" />
<polygon points="41.0,822.0 43.0,822.0 54.5,855.0 52.5,855.0" fill="#e2e2e2" />
<polygon points="124.0,822.0 128.0,822.0 118.0,855.0 112.0,855.0" fill="#c6c6c6" />
<polygon points="126.0,822.0 130.0,822.0 142.0,855.0 136.0,855.0" fill="#c6c6c6" />
<polygon points="125.5,822.0 128.5,822.0 116.0,855.0 114.0,855.0" fill="#e2e2e2" />
<polygon points="126.5,822.0 128.5,822.0 140.0,855.0 138.0,855.0" fill="#e2e2e2" />
<polygon points="209.5,822.0 213.5,822.0 203.5,855.0 197.5,855.0" fill="#c6c6c6" />
<polygon points="211.5,822.0 215.5,822.0 227.5,855.0 221.5,855.0" fill="#c6c6c6" />
<polygon points="211.0,822.0 214.0,822.0 201.5,855.0 199.5,855.0" fill="#e2e2e2" />
<polygon points="212.0,822.0 214.0,822.0 225.5,855.0 223.5,855.0" fill="#e2e2e2" />
<polygon points="294.8,822.0 298.8,822.0 288.8,855.0 282.8,855.0" fill="#c6c6c6" />
<polygon points="296.8,822.0 300.8,822.0 312.8,855.0 306.8,855.0" fill="#c6c6c6" />
<polygon points="296.3,822.0 299.3,822.0 286.8,855.0 284.8,855.0" fill="#e2e2e2" />
<polygon points="297.3,822.0 299.3,822.0 310.8,855.0 308.8,855.0" fill="#e2e2e2" />
<polygon points="380.5,822.0 384.5,822.0 374.5,855.0 368.5,855.0" fill="#c6c6c6" />
<polygon points="382.5,822.0 386.5,822.0 398.5,855.0 392.5,855.0" fill="#c6c6c6" />
<polygon points="382.0,822.0 385.0,822.0 372.5,855.0 370.5,855.0" fill="#e2e2e2" />
<polygon points="383.0,822.0 385.0,822.0 396.5,855.0 394.5,855.0" fill="#e2e2e2" />
<polygon points="465.5,822.0 469.5,822.0 459.5,855.0 453.5,855.0" fill="#c6c6c6" />
<polygon points="467.5,822.0 471.5,822.0 483.5,855.0 477.5,855.0" fill="#c6c6c6" />
<polygon points="467.0,822.0 470.0,822.0 457.5,855.0 455.5,855.0" fill="#e2e2e2" />
<polygon points="468.0,822.0 470.0,822.0 481.5,855.0 479.5,855.0" fill="#e2e2e2" />
<g stroke="#f4f4f4" stroke-width="1.1" opacity="0.7">
<line x1="3.0" y1="680.0" x2="21.0" y2="818"/>
<line x1="3.0" y1="680.0" x2="37.0" y2="818"/>
<line x1="3.0" y1="680.0" x2="55.0" y2="818"/>
<line x1="3.0" y1="680.0" x2="71.0" y2="818"/>
<line x1="3.0" y1="680.0" x2="98.0" y2="614.0" opacity="0.6"/>
<line x1="87.5" y1="690.0" x2="105.5" y2="818"/>
<line x1="87.5" y1="690.0" x2="121.5" y2="818"/>
<line x1="87.5" y1="690.0" x2="139.5" y2="818"/>
<line x1="87.5" y1="690.0" x2="155.5" y2="818"/>
<line x1="87.5" y1="690.0" x2="182.5" y2="624.0" opacity="0.6"/>
<line x1="170.0" y1="690.0" x2="188.0" y2="818"/>
<line x1="170.0" y1="690.0" x2="204.0" y2="818"/>
<line x1="170.0" y1="690.0" x2="222.0" y2="818"/>
<line x1="170.0" y1="690.0" x2="238.0" y2="818"/>
<line x1="170.0" y1="690.0" x2="265.0" y2="624.0" opacity="0.6"/>
<line x1="255.0" y1="690.0" x2="273.0" y2="818"/>
<line x1="255.0" y1="690.0" x2="289.0" y2="818"/>
<line x1="255.0" y1="690.0" x2="307.0" y2="818"/>
<line x1="255.0" y1="690.0" x2="323.0" y2="818"/>
<line x1="255.0" y1="690.0" x2="350.0" y2="624.0" opacity="0.6"/>
<line x1="336.0" y1="690.0" x2="354.0" y2="818"/>
<line x1="336.0" y1="690.0" x2="370.0" y2="818"/>
<line x1="336.0" y1="690.0" x2="388.0" y2="818"/>
<line x1="336.0" y1="690.0" x2="404.0" y2="818"/>
<line x1="336.0" y1="690.0" x2="431.0" y2="624.0" opacity="0.6"/>
<line x1="419.0" y1="690.0" x2="437.0" y2="818"/>
<line x1="419.0" y1="690.0" x2="453.0" y2="818"/>
<line x1="419.0" y1="690.0" x2="471.0" y2="818"/>
<line x1="419.0" y1="690.0" x2="487.0" y2="818"/>
<line x1="419.0" y1="690.0" x2="514.0" y2="624.0" opacity="0.6"/>
</g>
<g stroke="#adadab" stroke-width="2.2">
<line x1="3.0" y1="680.0" x2="53.0" y2="746.0"/>
<line x1="87.5" y1="690.0" x2="137.5" y2="756.0"/>
<line x1="170.0" y1="690.0" x2="220.0" y2="756.0"/>
<line x1="255.0" y1="690.0" x2="305.0" y2="756.0"/>
<line x1="336.0" y1="690.0" x2="386.0" y2="756.0"/>
<line x1="419.0" y1="690.0" x2="469.0" y2="756.0"/>
</g>
<g stroke="#0b2367" stroke-width="2.1" fill="#0b2367">
<line x1="457.50" y1="74.00" x2="457.50" y2="543.50"/><circle cx="457.50" cy="543.50" r="3.8" stroke="none"/>
<line x1="111.50" y1="188.40" x2="111.50" y2="586.50"/><circle cx="111.50" cy="586.50" r="3.8" stroke="none"/>
<line x1="436.50" y1="189.00" x2="436.50" y2="543.50"/><circle cx="436.50" cy="543.50" r="3.8" stroke="none"/>
<line x1="224.00" y1="391.00" x2="224.00" y2="493.50"/><circle cx="224.00" cy="493.50" r="3.8" stroke="none"/>
<line x1="340.00" y1="387.50" x2="340.00" y2="652.50"/><circle cx="340.00" cy="652.50" r="3.8" stroke="none"/>
<line x1="222.80" y1="509.00" x2="222.80" y2="691.50"/><circle cx="222.80" cy="691.50" r="3.8" stroke="none"/>
<line x1="250.50" y1="723.50" x2="250.50" y2="836.50"/><circle cx="250.50" cy="836.50" r="3.8" stroke="none"/>
<line x1="869.50" y1="121.00" x2="869.50" y2="522.80"/><circle cx="869.50" cy="522.80" r="3.8" stroke="none"/>
<line x1="849.20" y1="248.50" x2="849.20" y2="557.50"/><circle cx="849.20" cy="557.50" r="3.8" stroke="none"/>
<line x1="819.80" y1="324.40" x2="819.80" y2="522.50"/><circle cx="819.80" cy="522.50" r="3.8" stroke="none"/>
<line x1="879.75" y1="387.30" x2="879.75" y2="557.50"/><circle cx="879.75" cy="557.50" r="3.8" stroke="none"/>
<line x1="990.00" y1="229.00" x2="990.00" y2="546.00"/><circle cx="990.00" cy="546.00" r="3.8" stroke="none"/>
<line x1="1009.00" y1="387.50" x2="1009.00" y2="557.50"/><circle cx="1009.00" cy="557.50" r="3.8" stroke="none"/>
<line x1="1132.50" y1="387.50" x2="1132.50" y2="552.00"/><circle cx="1132.50" cy="552.00" r="3.8" stroke="none"/>
<line x1="1209.50" y1="189.00" x2="1209.50" y2="531.50"/><circle cx="1209.50" cy="531.50" r="3.8" stroke="none"/>
<line x1="1221.00" y1="120.90" x2="1221.00" y2="523.00"/><circle cx="1221.00" cy="523.00" r="3.8" stroke="none"/>
<line x1="1419.00" y1="121.00" x2="1419.00" y2="513.50"/><circle cx="1419.00" cy="513.50" r="3.8" stroke="none"/>
<line x1="1346.50" y1="189.00" x2="1346.50" y2="531.50"/><circle cx="1346.50" cy="531.50" r="3.8" stroke="none"/>
<line x1="1256.50" y1="387.50" x2="1256.50" y2="553.50"/><circle cx="1256.50" cy="553.50" r="3.8" stroke="none"/>
<line x1="1047.10" y1="455.30" x2="1047.10" y2="606.60"/><circle cx="1047.10" cy="606.60" r="3.8" stroke="none"/>
<line x1="1275.20" y1="455.30" x2="1275.20" y2="606.40"/><circle cx="1275.20" cy="606.40" r="3.8" stroke="none"/>
<line x1="1078.00" y1="518.50" x2="1078.00" y2="606.50"/><circle cx="1078.00" cy="606.50" r="3.8" stroke="none"/>
<line x1="1392.80" y1="518.30" x2="1392.80" y2="606.40"/><circle cx="1392.80" cy="606.40" r="3.8" stroke="none"/>
</g>
<line x1="685.5" y1="324.3" x2="685.5" y2="545.5" stroke="#c1272d" stroke-width="2.5"/><circle cx="685.5" cy="545.5" r="4.3" fill="#c1272d"/>
<path d="M51.11,607.15 A20.20,20.20 0 1 1 78.49,607.15 L64.80,619.77 Z" fill="#fff" stroke="#fff" stroke-width="3.2" stroke-linejoin="round"/>
<path d="M51.11,607.15 A20.20,20.20 0 1 1 78.49,607.15 L64.80,619.77 Z" fill="#a02e73"/>
<circle cx="64.80" cy="592.30" r="16.40" fill="#fff"/>
<polygon points="64.80,582.10 67.39,589.03 74.79,589.35 69.00,593.96 70.97,601.10 64.80,597.01 58.63,601.10 60.60,593.96 54.81,589.35 62.21,589.03" fill="#a02e73" stroke="#a02e73" stroke-width="1" stroke-linejoin="round"/>
<path d="M800.34,735.42 A20.15,20.15 0 1 1 827.66,735.42 L814.00,748.00 Z" fill="#fff" stroke="#fff" stroke-width="3.2" stroke-linejoin="round"/>
<path d="M800.34,735.42 A20.15,20.15 0 1 1 827.66,735.42 L814.00,748.00 Z" fill="#114f8f"/>
<circle cx="814.00" cy="720.60" r="16.45" fill="#fff"/>
<text x="814.00" y="728.23" font-family="Liberation Sans, sans-serif" font-weight="bold" font-size="21.5" text-anchor="middle" fill="#114f8f">7</text>
<path d="M848.59,754.22 A20.15,20.15 0 1 1 875.91,754.22 L862.25,766.80 Z" fill="#fff" stroke="#fff" stroke-width="3.2" stroke-linejoin="round"/>
<path d="M848.59,754.22 A20.15,20.15 0 1 1 875.91,754.22 L862.25,766.80 Z" fill="#114f8f"/>
<circle cx="862.25" cy="739.40" r="16.45" fill="#fff"/>
<text x="862.25" y="747.03" font-family="Liberation Sans, sans-serif" font-weight="bold" font-size="21.5" text-anchor="middle" fill="#114f8f">6</text>
<path d="M1110.14,753.82 A20.15,20.15 0 1 1 1137.46,753.82 L1123.80,766.40 Z" fill="#fff" stroke="#fff" stroke-width="3.2" stroke-linejoin="round"/>
<path d="M1110.14,753.82 A20.15,20.15 0 1 1 1137.46,753.82 L1123.80,766.40 Z" fill="#114f8f"/>
<circle cx="1123.80" cy="739.00" r="16.45" fill="#fff"/>
<text x="1123.80" y="746.63" font-family="Liberation Sans, sans-serif" font-weight="bold" font-size="21.5" text-anchor="middle" fill="#114f8f">5</text>
<path d="M1423.54,754.82 A20.15,20.15 0 1 1 1450.86,754.82 L1437.20,767.40 Z" fill="#fff" stroke="#fff" stroke-width="3.2" stroke-linejoin="round"/>
<path d="M1423.54,754.82 A20.15,20.15 0 1 1 1450.86,754.82 L1437.20,767.40 Z" fill="#114f8f"/>
<circle cx="1437.20" cy="740.00" r="16.45" fill="#fff"/>
<text x="1437.20" y="747.63" font-family="Liberation Sans, sans-serif" font-weight="bold" font-size="21.5" text-anchor="middle" fill="#114f8f">4</text>
<path d="M1504.41,645.75 A20.20,20.20 0 1 1 1531.79,645.75 L1518.10,658.37 Z" fill="#fff" stroke="#fff" stroke-width="3.2" stroke-linejoin="round"/>
<path d="M1504.41,645.75 A20.20,20.20 0 1 1 1531.79,645.75 L1518.10,658.37 Z" fill="#114f8f"/>
<circle cx="1518.10" cy="630.90" r="16.50" fill="#fff"/>
<text x="1518.10" y="638.53" font-family="Liberation Sans, sans-serif" font-weight="bold" font-size="21.5" text-anchor="middle" fill="#114f8f">3</text>
<path d="M1504.41,566.10 A20.20,20.20 0 1 1 1531.79,566.10 L1518.10,578.72 Z" fill="#fff" stroke="#fff" stroke-width="3.2" stroke-linejoin="round"/>
<path d="M1504.41,566.10 A20.20,20.20 0 1 1 1531.79,566.10 L1518.10,578.72 Z" fill="#114f8f"/>
<circle cx="1518.10" cy="551.25" r="16.50" fill="#fff"/>
<text x="1518.10" y="558.88" font-family="Liberation Sans, sans-serif" font-weight="bold" font-size="21.5" text-anchor="middle" fill="#114f8f">1</text>
<rect x="149.20" y="744.60" width="42.80" height="51.30" rx="10.12" fill="#fff"/>
<rect x="150.41" y="745.92" width="40.37" height="48.67" rx="8.90" fill="#2b8873"/>
<rect x="150.41" y="762.61" width="40.37" height="2.23" fill="#fff"/>
<path d="M166.30,749.56 l3.74,4.25 h-2.28 v5.46 h-2.93 v-5.46 h-2.28 Z" fill="#fff" stroke="#fff" stroke-width="0.81" stroke-linejoin="round"/>
<path d="M175.00,759.27 l3.74,-4.25 h-2.28 v-5.46 h-2.93 v5.46 h-2.28 Z" fill="#fff" stroke="#fff" stroke-width="0.81" stroke-linejoin="round"/>
<text x="170.60" y="787.60" font-family="Liberation Sans, sans-serif" font-weight="bold" font-size="22.7" text-anchor="middle" fill="#fff">B</text>
<rect x="372.80" y="672.00" width="42.30" height="50.50" rx="10.00" fill="#fff"/>
<rect x="374.00" y="673.30" width="39.90" height="47.90" rx="8.80" fill="#2b8873"/>
<rect x="374.00" y="689.80" width="39.90" height="2.20" fill="#fff"/>
<path d="M389.70,676.90 l3.70,4.20 h-2.25 v5.40 h-2.90 v-5.40 h-2.25 Z" fill="#fff" stroke="#fff" stroke-width="0.80" stroke-linejoin="round"/>
<path d="M398.30,686.50 l3.70,-4.20 h-2.25 v-5.40 h-2.90 v5.40 h-2.25 Z" fill="#fff" stroke="#fff" stroke-width="0.80" stroke-linejoin="round"/>
<text x="393.95" y="714.50" font-family="Liberation Sans, sans-serif" font-weight="bold" font-size="22.4" text-anchor="middle" fill="#fff">C</text>
<rect x="703.20" y="672.20" width="42.30" height="50.60" rx="10.00" fill="#fff"/>
<rect x="704.40" y="673.50" width="39.90" height="48.00" rx="8.80" fill="#2b8873"/>
<rect x="704.40" y="690.00" width="39.90" height="2.20" fill="#fff"/>
<path d="M720.10,677.10 l3.70,4.20 h-2.25 v5.40 h-2.90 v-5.40 h-2.25 Z" fill="#fff" stroke="#fff" stroke-width="0.80" stroke-linejoin="round"/>
<path d="M728.70,686.70 l3.70,-4.20 h-2.25 v-5.40 h-2.90 v5.40 h-2.25 Z" fill="#fff" stroke="#fff" stroke-width="0.80" stroke-linejoin="round"/>
<text x="724.35" y="714.70" font-family="Liberation Sans, sans-serif" font-weight="bold" font-size="22.4" text-anchor="middle" fill="#fff">D</text>
<rect x="947.80" y="651.10" width="42.30" height="51.00" rx="10.00" fill="#fff"/>
<rect x="949.00" y="652.40" width="39.90" height="48.40" rx="8.80" fill="#2b8873"/>
<rect x="949.00" y="668.90" width="39.90" height="2.20" fill="#fff"/>
<path d="M964.70,656.00 l3.70,4.20 h-2.25 v5.40 h-2.90 v-5.40 h-2.25 Z" fill="#fff" stroke="#fff" stroke-width="0.80" stroke-linejoin="round"/>
<path d="M973.30,665.60 l3.70,-4.20 h-2.25 v-5.40 h-2.90 v5.40 h-2.25 Z" fill="#fff" stroke="#fff" stroke-width="0.80" stroke-linejoin="round"/>
<text x="968.95" y="693.60" font-family="Liberation Sans, sans-serif" font-weight="bold" font-size="22.4" text-anchor="middle" fill="#fff">E</text>
<rect x="1461.60" y="651.20" width="42.20" height="50.60" rx="9.98" fill="#fff"/>
<rect x="1462.80" y="652.50" width="39.81" height="48.01" rx="8.78" fill="#2b8873"/>
<rect x="1462.80" y="668.96" width="39.81" height="2.19" fill="#fff"/>
<path d="M1478.46,656.09 l3.69,4.19 h-2.24 v5.39 h-2.89 v-5.39 h-2.24 Z" fill="#fff" stroke="#fff" stroke-width="0.80" stroke-linejoin="round"/>
<path d="M1487.04,665.67 l3.69,-4.19 h-2.24 v-5.39 h-2.89 v5.39 h-2.24 Z" fill="#fff" stroke="#fff" stroke-width="0.80" stroke-linejoin="round"/>
<text x="1482.70" y="693.60" font-family="Liberation Sans, sans-serif" font-weight="bold" font-size="22.3" text-anchor="middle" fill="#fff">F</text>
<rect x="746.45" y="715.95" width="42.10" height="42.10" rx="7.41" fill="#fff"/>
<rect x="747.75" y="717.25" width="39.50" height="39.50" rx="6.42" fill="#1f2082"/>
<g transform="translate(747.75,717.25) scale(0.9875)">
<rect x="15" y="7.8" width="10" height="4" fill="#fff"/>
<path d="M14.2,12.3 H25.8 L29.2,18.6 L31.2,18.2 Q33.2,17.2 33.6,19 Q33.4,20.4 31.6,20.6 Q32.6,21.5 32.6,23 V31.2 Q32.6,32.3 31.6,32.3 H28.6 Q27.6,32.3 27.6,31.2 V28.2 H12.4 V31.2 Q12.4,32.3 11.4,32.3 H8.4 Q7.4,32.3 7.4,31.2 V23 Q7.4,21.5 8.4,20.6 Q6.6,20.4 6.4,19 Q6.8,17.2 8.8,18.2 L10.8,18.6 Z" fill="#fff"/>
<path d="M15.3,14 H24.7 L27.2,20 H12.8 Z" fill="#1f2082"/>
<rect x="10" y="23.2" width="4.6" height="2.4" fill="#1f2082"/><rect x="25.4" y="23.2" width="4.6" height="2.4" fill="#1f2082"/>
<rect x="16.2" y="8.9" width="7.6" height="1.6" fill="#1f2082" opacity="0.55"/>
</g>
<rect x="64.90" y="822.40" width="41.80" height="41.80" rx="7.35" fill="#fff"/>
<rect x="66.20" y="823.70" width="39.20" height="39.20" rx="6.37" fill="#7d1c5b"/>
<g transform="translate(66.20,823.70) scale(0.9800)">
<rect x="15" y="7.8" width="10" height="4" fill="#fff"/>
<path d="M14.2,12.3 H25.8 L29.2,18.6 L31.2,18.2 Q33.2,17.2 33.6,19 Q33.4,20.4 31.6,20.6 Q32.6,21.5 32.6,23 V31.2 Q32.6,32.3 31.6,32.3 H28.6 Q27.6,32.3 27.6,31.2 V28.2 H12.4 V31.2 Q12.4,32.3 11.4,32.3 H8.4 Q7.4,32.3 7.4,31.2 V23 Q7.4,21.5 8.4,20.6 Q6.6,20.4 6.4,19 Q6.8,17.2 8.8,18.2 L10.8,18.6 Z" fill="#fff"/>
<path d="M15.3,14 H24.7 L27.2,20 H12.8 Z" fill="#7d1c5b"/>
<rect x="10" y="23.2" width="4.6" height="2.4" fill="#7d1c5b"/><rect x="25.4" y="23.2" width="4.6" height="2.4" fill="#7d1c5b"/>
<rect x="16.2" y="8.9" width="7.6" height="1.6" fill="#7d1c5b" opacity="0.55"/>
</g>
<rect x="1169.50" y="1130.90" width="43.00" height="43.00" rx="7.50" fill="#fff"/>
<rect x="1171.00" y="1132.40" width="40.00" height="40.00" rx="6.50" fill="#a92a42"/>
<g transform="translate(1171.00,1132.40) scale(1.0000)" fill="none" stroke="#fff" stroke-width="4">
<line x1="19.95" y1="6.3" x2="19.95" y2="33.4" stroke-width="4.1"/>
<path d="M11,7.6 A8.9,8.1 0 0 0 28.9,7.6"/><path d="M11,32.5 A8.9,8.1 0 0 1 28.9,32.5"/>
</g>
<rect x="43.00" y="1055.00" width="39.80" height="39.80" rx="6.47" fill="#1f2082"/>
<g transform="translate(43.00,1055.00) scale(0.9950)">
<rect x="15" y="7.8" width="10" height="4" fill="#fff"/>
<path d="M14.2,12.3 H25.8 L29.2,18.6 L31.2,18.2 Q33.2,17.2 33.6,19 Q33.4,20.4 31.6,20.6 Q32.6,21.5 32.6,23 V31.2 Q32.6,32.3 31.6,32.3 H28.6 Q27.6,32.3 27.6,31.2 V28.2 H12.4 V31.2 Q12.4,32.3 11.4,32.3 H8.4 Q7.4,32.3 7.4,31.2 V23 Q7.4,21.5 8.4,20.6 Q6.6,20.4 6.4,19 Q6.8,17.2 8.8,18.2 L10.8,18.6 Z" fill="#fff"/>
<path d="M15.3,14 H24.7 L27.2,20 H12.8 Z" fill="#1f2082"/>
<rect x="10" y="23.2" width="4.6" height="2.4" fill="#1f2082"/><rect x="25.4" y="23.2" width="4.6" height="2.4" fill="#1f2082"/>
<rect x="16.2" y="8.9" width="7.6" height="1.6" fill="#1f2082" opacity="0.55"/>
</g>
<rect x="43.00" y="1117.20" width="39.80" height="39.80" rx="6.47" fill="#7d1c5b"/>
<g transform="translate(43.00,1117.20) scale(0.9950)">
<rect x="15" y="7.8" width="10" height="4" fill="#fff"/>
<path d="M14.2,12.3 H25.8 L29.2,18.6 L31.2,18.2 Q33.2,17.2 33.6,19 Q33.4,20.4 31.6,20.6 Q32.6,21.5 32.6,23 V31.2 Q32.6,32.3 31.6,32.3 H28.6 Q27.6,32.3 27.6,31.2 V28.2 H12.4 V31.2 Q12.4,32.3 11.4,32.3 H8.4 Q7.4,32.3 7.4,31.2 V23 Q7.4,21.5 8.4,20.6 Q6.6,20.4 6.4,19 Q6.8,17.2 8.8,18.2 L10.8,18.6 Z" fill="#fff"/>
<path d="M15.3,14 H24.7 L27.2,20 H12.8 Z" fill="#7d1c5b"/>
<rect x="10" y="23.2" width="4.6" height="2.4" fill="#7d1c5b"/><rect x="25.4" y="23.2" width="4.6" height="2.4" fill="#7d1c5b"/>
<rect x="16.2" y="8.9" width="7.6" height="1.6" fill="#7d1c5b" opacity="0.55"/>
</g>
<rect x="231.50" y="1117.20" width="39.80" height="39.80" rx="6.47" fill="#a92a42"/>
<g transform="translate(231.50,1117.20) scale(0.9950)" fill="none" stroke="#fff" stroke-width="4">
<line x1="19.95" y1="6.3" x2="19.95" y2="33.4" stroke-width="4.1"/>
<path d="M11,7.6 A8.9,8.1 0 0 0 28.9,7.6"/><path d="M11,32.5 A8.9,8.1 0 0 1 28.9,32.5"/>
</g>
<path d="M236.88,1083.98 A16.70,16.70 0 1 1 259.52,1083.98 L248.20,1094.41 Z" fill="#fff" stroke="#fff" stroke-width="0.0" stroke-linejoin="round"/>
<path d="M236.88,1083.98 A16.70,16.70 0 1 1 259.52,1083.98 L248.20,1094.41 Z" fill="#114f8f"/>
<circle cx="248.20" cy="1071.70" r="13.80" fill="#fff"/>
<text x="248.20" y="1078.62" font-family="Liberation Sans, sans-serif" font-weight="bold" font-size="19.5" text-anchor="middle" fill="#114f8f">1</text>
<path d="M388.68,1081.88 A16.70,16.70 0 1 1 411.32,1081.88 L400.00,1092.31 Z" fill="#fff" stroke="#fff" stroke-width="0.0" stroke-linejoin="round"/>
<path d="M388.68,1081.88 A16.70,16.70 0 1 1 411.32,1081.88 L400.00,1092.31 Z" fill="#a02e73"/>
<circle cx="400.00" cy="1069.60" r="13.70" fill="#fff"/>
<polygon points="400.00,1061.22 402.14,1066.95 408.26,1067.22 403.47,1071.03 405.10,1076.93 400.00,1073.55 394.90,1076.93 396.53,1071.03 391.74,1067.22 397.86,1066.95" fill="#a02e73" stroke="#a02e73" stroke-width="1" stroke-linejoin="round"/>
<rect x="383.60" y="1116.00" width="35.40" height="42.00" rx="8.37" fill="#fff"/>
<rect x="384.60" y="1117.09" width="33.39" height="39.82" rx="7.36" fill="#2b8873"/>
<rect x="384.60" y="1130.90" width="33.39" height="1.84" fill="#fff"/>
<path d="M397.74,1120.10 l3.10,3.51 h-1.88 v4.52 h-2.43 v-4.52 h-1.88 Z" fill="#fff" stroke="#fff" stroke-width="0.67" stroke-linejoin="round"/>
<path d="M404.94,1128.13 l3.10,-3.51 h-1.88 v-4.52 h-2.43 v4.52 h-1.88 Z" fill="#fff" stroke="#fff" stroke-width="0.67" stroke-linejoin="round"/>
<text x="401.30" y="1151.57" font-family="Liberation Sans, sans-serif" font-weight="bold" font-size="18.7" text-anchor="middle" fill="#fff">B</text>
</svg>
<div class="nm" style="left:461.50px;top:74.00px;width:72.50px;height:28.00px;line-height:29.60px">竞骏会</div>
<div class="nm" style="left:115.00px;top:188.40px;width:100.00px;height:28.10px;line-height:29.70px">沙田万里轩</div>
<div class="nm" style="left:440.50px;top:188.40px;width:72.00px;height:28.10px;line-height:29.70px">际会轩</div>
<div class="nm" style="left:228.50px;top:390.40px;width:79.50px;height:28.10px;line-height:29.70px">露天广场</div>
<div class="nm" style="left:344.00px;top:387.30px;width:80.00px;height:28.10px;line-height:29.70px">投注大堂</div>
<div class="nm" style="left:873.50px;top:120.90px;width:68.00px;height:28.10px;line-height:29.70px">名马厅</div>
<div class="nm" style="left:796.90px;top:248.00px;width:48.10px;height:28.00px;line-height:29.60px">连荟</div>
<div class="nm" style="left:823.75px;top:324.40px;width:80.25px;height:28.10px;line-height:29.70px">2M花园</div>
<div class="nm" style="left:763.90px;top:387.30px;width:111.90px;height:27.80px;line-height:29.40px">沙田永胜冰室</div>
<div class="nm" style="left:993.50px;top:228.80px;width:64.00px;height:28.10px;line-height:29.70px">天马驿</div>
<div class="nm" style="left:1013.50px;top:387.30px;width:87.00px;height:28.10px;line-height:29.70px">喜马当先</div>
<div class="nm" style="left:1137.00px;top:387.30px;width:47.00px;height:28.10px;line-height:29.70px">出闸</div>
<div class="nm" style="left:1132.50px;top:188.40px;width:71.00px;height:28.10px;line-height:29.70px">百胜厅</div>
<div class="nm" style="left:1225.00px;top:120.90px;width:88.00px;height:28.10px;line-height:29.70px">私用厢房</div>
<div class="nm" style="left:1423.50px;top:120.90px;width:71.50px;height:28.10px;line-height:29.70px">骏荟厅</div>
<div class="nm" style="left:1351.00px;top:188.40px;width:87.50px;height:28.10px;line-height:29.70px">投注大堂</div>
<div class="nm" style="left:1261.00px;top:387.30px;width:100.00px;height:28.10px;line-height:29.70px">“游客专区”</div>
<div class="nm" style="left:1051.00px;top:455.30px;width:79.50px;height:28.10px;line-height:29.70px">影视大堂</div>
<div class="nm" style="left:1279.50px;top:455.30px;width:111.50px;height:28.10px;line-height:29.70px">赛马活动专区</div>
<div class="nm" style="left:1082.50px;top:518.30px;width:87.50px;height:28.10px;line-height:29.70px">数码专区</div>
<div class="nm" style="left:1397.50px;top:518.30px;width:86.50px;height:28.10px;line-height:29.70px">骑者练成</div>
<div class="nm" style="left:255.00px;top:723.30px;width:95.00px;height:28.10px;line-height:29.70px">马匹亮相圈</div>
<div class="nm" style="left:227.5px;top:509px;width:135px;height:46px;line-height:19px;padding-top:4px;box-sizing:border-box">公众大堂<br>“优越”投注专区</div>
<div class="fl" style="left:461.50px;top:106.00px;width:56.00px;height:24.00px;line-height:26.00px">5<span class="cm">、</span>7楼</div>
<div class="fl" style="left:115.00px;top:220.60px;width:40.00px;height:24.00px;line-height:26.00px">5楼</div>
<div class="fl" style="left:440.50px;top:220.60px;width:40.00px;height:24.00px;line-height:26.00px">5楼</div>
<div class="fl" style="left:344.00px;top:419.00px;width:56.00px;height:24.00px;line-height:26.00px">1<span class="cm">、</span>2楼</div>
<div class="fl" style="left:227.50px;top:561.00px;width:39.00px;height:22.50px;line-height:24.50px">1楼</div>
<div class="fl" style="left:873.50px;top:153.00px;width:40.00px;height:23.50px;line-height:25.50px">6楼</div>
<div class="fl" style="left:772.00px;top:280.00px;width:73.00px;height:23.75px;line-height:25.75px">2<span class="cm">、</span>3及4楼</div>
<div class="fl" style="left:823.75px;top:356.90px;width:96.25px;height:23.30px;line-height:25.30px">2楼阁层及3楼</div>
<div class="fl" style="left:835.90px;top:419.30px;width:39.90px;height:23.70px;line-height:25.70px">2楼</div>
<div class="fl" style="left:993.50px;top:261.00px;width:169.00px;height:23.00px;line-height:25.00px">3楼<span class="cm">、</span>3楼阁层<span class="cm">、</span>4楼及4楼阁层</div>
<div class="fl" style="left:1013.50px;top:419.00px;width:39.00px;height:24.00px;line-height:26.00px">2楼</div>
<div class="fl" style="left:1137.00px;top:419.00px;width:39.00px;height:24.00px;line-height:26.00px">2楼</div>
<div class="fl" style="left:1164.10px;top:220.60px;width:40.00px;height:24.00px;line-height:26.00px">5楼</div>
<div class="fl" style="left:1225.00px;top:153.00px;width:40.00px;height:23.50px;line-height:25.50px">6楼</div>
<div class="fl" style="left:1423.50px;top:153.00px;width:40.00px;height:23.50px;line-height:25.50px">6楼</div>
<div class="fl" style="left:1351.00px;top:220.60px;width:71.50px;height:24.00px;line-height:26.00px">1<span class="cm">、</span>4及5楼</div>
<div class="fl" style="left:1261.00px;top:419.00px;width:40.00px;height:24.00px;line-height:26.00px">2楼</div>
<div class="fl" style="left:1051.00px;top:488.00px;width:55.50px;height:23.00px;line-height:25.00px">1楼阁层</div>
<div class="fl" style="left:1279.50px;top:488.00px;width:55.50px;height:23.00px;line-height:25.00px">1楼阁层</div>
<div class="fl" style="left:1082.50px;top:550.50px;width:39.00px;height:23.00px;line-height:25.00px">1楼</div>
<div class="fl" style="left:1397.50px;top:550.50px;width:39.00px;height:23.00px;line-height:25.00px">1楼</div>
<div class="rd" style="left:481.2px;top:324.3px;width:200.1px;height:59.4px">沙田骏轩<span class="cm2">、</span>骏星汇及<br>骏星汇<span class="q">“</span>优越<span class="q">”</span>专区</div>
<div class="fl" style="left:625.2px;top:388px;width:56.1px;height:27.6px;line-height:24.5px;background:#c1272d;font-size:15.5px;letter-spacing:0.5px">3楼</div>
<div class="gt" style="left:547.3px;top:505.3px;width:78px;text-align:left;font-size:10.8px;line-height:16px;letter-spacing:2.5px;color:#7a7a7a">第一座看台</div>
<div class="gt" style="left:920px;top:505.3px;width:78px;text-align:left;font-size:10.8px;line-height:16px;letter-spacing:2.5px;color:#7a7a7a">第二座看台</div>
<div class="gt" style="left:809.5px;top:884px;width:150px;text-align:left;font-size:18px;letter-spacing:4px;color:#858585;line-height:26px">大埔道<span style="margin:0 2.5px">(</span>沙田<span style="margin:0 2.5px">)</span></div>
<div class="gt" style="left:1220.5px;top:1138.5px;width:74px;text-align:left;font-size:18.5px;letter-spacing:3.4px;color:#8a8a8a;line-height:26px">马场站</div>
<div class="lg" style="left:94.0px;top:1064.0px">公众计乘车站</div>
<div class="lg" style="left:280.0px;top:1064.0px">公众入口</div>
<div class="lg" style="left:431.0px;top:1061.5px">会员入口</div>
<div class="lg" style="left:94.0px;top:1126.0px">会员计乘车站</div>
<div class="lg" style="left:282.5px;top:1126.0px">港铁站</div>
<div class="lg" style="left:431.0px;top:1126.0px">升降机</div>
</body></html>
